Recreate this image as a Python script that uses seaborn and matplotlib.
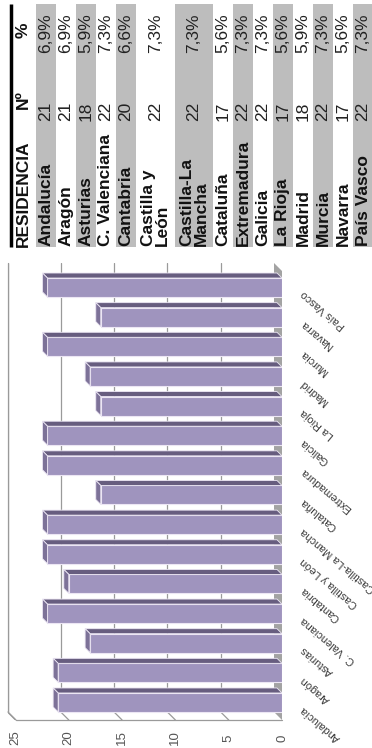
import numpy as np
import pandas as pd
import seaborn as sns
import matplotlib.pyplot as plt
from matplotlib.patches import Polygon

# Datos
regiones = ['Andalucía', 'Aragón', 'Asturias', 'C. Valenciana', 'Cantabria',
            'Castilla y León', 'Castilla-La Mancha', 'Cataluña', 'Extremadura',
            'Galicia', 'La Rioja', 'Madrid', 'Murcia', 'Navarra', 'País Vasco']
nombres_tabla = ['Andalucía', 'Aragón', 'Asturias', 'C. Valenciana', 'Cantabria',
                 'Castilla y\nLeón', 'Castilla-La\nMancha', 'Cataluña', 'Extremadura',
                 'Galicia', 'La Rioja', 'Madrid', 'Murcia', 'Navarra', 'País Vasco']
numero = [21, 21, 18, 22, 20, 22, 22, 17, 22, 22, 17, 18, 22, 17, 22]
porcentaje = ['6,9%', '6,9%', '5,9%', '7,3%', '6,6%', '7,3%', '7,3%', '5,6%',
              '7,3%', '7,3%', '5,6%', '5,9%', '7,3%', '5,6%', '7,3%']
ticks_valor = [0, 5, 10, 15, 20, 25]

sns.set_style('white')
plt.rcParams['font.family'] = ['Liberation Sans', 'DejaVu Sans']

W, H = 372, 748
fig = plt.figure(figsize=(W / 100, H / 100), dpi=100)

# ---- grafico (pagina girada 90 grados) ----
x0, x1, y0, y1 = 8, 282, 263, 720          # caja en pixeles
ax = fig.add_axes([x0 / W, 1 - y1 / H, (x1 - x0) / W, (y1 - y0) / H])
px_x = 10.66                                # pixeles por unidad
px_y = 29.64                                # pixeles por categoria
c0 = 287.5                                  # centro de la primera barra (px)

df = pd.DataFrame({'region': regiones, 'n': numero})
orden = regiones[::-1]
ancho = 0.64
sns.barplot(data=df, x='n', y='region', order=orden, orient='h', width=ancho,
            color='#9f94be', saturation=1, edgecolor='#ece6f4', linewidth=0.8,
            ax=ax, zorder=5)

xmax = (x1 - x0) / px_x
ytop = (y0 - c0) / px_y
ybot = (y1 - c0) / px_y
ax.set_xlim(xmax, 0)
ax.set_ylim(ybot, ytop)
ax.axis('off')

# profundidad de la pared del fondo y de las barras
fx, fy = 8 / px_x, 8 / px_y
bx, by = 5 / px_x, 5 / px_y

# suelo (gris, a la derecha)
ax.add_patch(Polygon([(0, ybot), (fx, ybot - fy), (fx, ytop), (0, ytop + 8 / px_y)],
                     closed=True, facecolor='#a3a3a3', edgecolor='none', zorder=1))
# lineas de la pared
for t in ticks_valor[1:]:
    ax.plot([t + fx, t + fx], [ytop, ybot - fy], color='#9a9a9a', lw=0.9, zorder=2)
    ax.plot([t + fx, t], [ybot - fy, ybot], color='#9a9a9a', lw=0.9, zorder=2)
ax.plot([xmax, xmax], [ytop, ybot - fy], color='#9a9a9a', lw=0.9, zorder=2, clip_on=False)
ax.plot([xmax, xmax - fx], [ybot - fy, ybot], color='#9a9a9a', lw=0.9, zorder=2, clip_on=False)
ax.plot([xmax - fx, 0], [ybot, ybot], color='#9a9a9a', lw=0.9, zorder=2, clip_on=False)

# caras 3D de cada barra
for i, reg in enumerate(orden):
    v = numero[regiones.index(reg)]
    top = i - ancho / 2
    bot = i + ancho / 2
    ax.add_patch(Polygon([(0, top), (v, top), (v + bx, top - by), (bx, top - by)],
                         closed=True, facecolor='#675d7f', edgecolor='#ece6f4',
                         lw=0.6, zorder=6))
    ax.add_patch(Polygon([(v, top), (v, bot), (v + bx, bot - by), (v + bx, top - by)],
                         closed=True, facecolor='#7d7298', edgecolor='#ece6f4',
                         lw=0.6, zorder=6))
    ax.text(-20 / px_x, i + 5 / px_y, reg, rotation=140, rotation_mode='anchor',
            ha='right', va='center', fontsize=7.8, color='#3a3a3a', clip_on=False)

for t in ticks_valor:
    ax.text(t, (738 - c0) / px_y, str(t), rotation=90, ha='center', va='center',
            fontsize=9.5, color='#555555', clip_on=False)

# ---- tabla (girada) ----
tx = fig.add_axes([0, 0, 1, 1], zorder=10)
tx.set_xlim(0, W)
tx.set_ylim(H, 0)
tx.axis('off')
tx.patch.set_alpha(0)

fs = 12.5
tx.plot([11, 11], [4, 247], color='black', lw=2.5, solid_capstyle='butt')
tx.text(23, 247, 'RESIDENCIA', rotation=90, ha='center', va='bottom',
        fontsize=fs, fontweight='bold', color='#111111')
tx.text(23, 100, 'Nº', rotation=90, ha='center', va='center',
        fontsize=fs, fontweight='bold', color='#111111')
tx.text(23, 30, '%', rotation=90, ha='center', va='center',
        fontsize=fs, fontweight='bold', color='#111111')

xa = 36
for k, nom in enumerate(nombres_tabla):
    h = 20 if '\n' not in nom else 38.5
    if k % 2 == 0:
        tx.add_patch(plt.Rectangle((xa, 4), h, 243, facecolor='#bdbdbd',
                                   edgecolor='none', zorder=0))
    xc = xa + h / 2
    tx.text(xc, 246, nom, rotation=90, ha='center', va='bottom', fontsize=fs,
            fontweight='bold', color='#111111', linespacing=0.95,
            multialignment='left')
    tx.text(xc, 111, str(numero[k]), rotation=90, ha='center', va='center',
            fontsize=fs, color='#222222')
    tx.text(xc, 33, porcentaje[k], rotation=90, ha='center', va='center',
            fontsize=fs, color='#222222')
    xa += h

fig.savefig('out.png', dpi=100)
